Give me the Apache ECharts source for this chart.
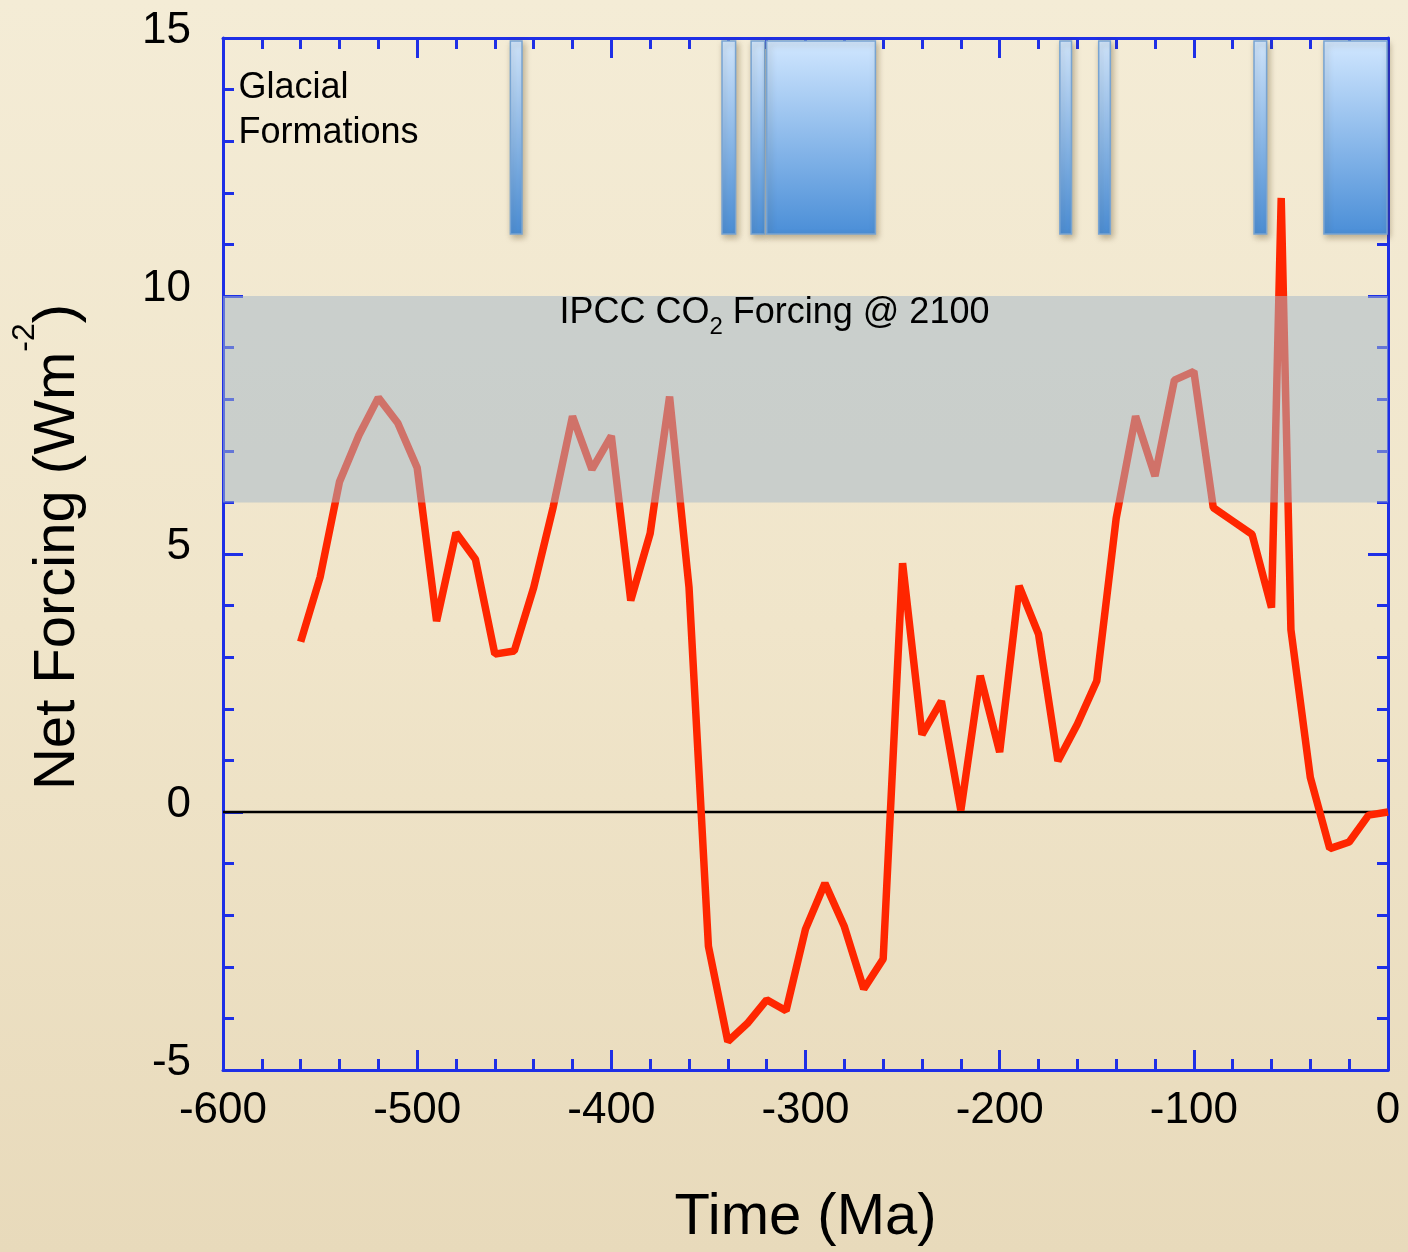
<!DOCTYPE html>
<html>
<head>
<meta charset="utf-8">
<script src="https://cdn.jsdelivr.net/npm/echarts@6/dist/echarts.min.js"></script>
<style>
html, body { margin: 0; padding: 0; }
body { width: 1408px; height: 1252px; background: linear-gradient(180deg, #f4ecd6 0%, #f0e5ca 50%, #e8dabb 100%); }
#chart { width: 1408px; height: 1252px; }
</style>
</head>
<body>
<div id="chart"></div>
<script>
// net forcing through time
var timeMa = [-560, -550, -540, -530, -520, -510, -500, -490, -480, -470,
  -460, -450, -440, -430, -420, -410, -400, -390, -380, -370,
  -360, -350, -340, -330, -320, -310, -300, -290, -280, -270,
  -260, -250, -240, -230, -220, -210, -200, -190, -180, -170,
  -160, -150, -140, -130, -120, -110, -100, -90, -80, -70,
  -60, -55, -50, -40, -30, -20, -10, 0];
var netForcing = [3.3, 4.55, 6.4, 7.3, 8.03, 7.54, 6.67, 3.7, 5.41, 4.9,
  3.06, 3.12, 4.35, 5.9, 7.67, 6.64, 7.29, 4.1, 5.4, 8.05,
  4.36, -2.6, -4.45, -4.1, -3.64, -3.85, -2.27, -1.38, -2.22, -3.43,
  -2.85, 4.82, 1.5, 2.15, 0.03, 2.64, 1.16, 4.38, 3.45, 0.99,
  1.7, 2.54, 5.69, 7.67, 6.51, 8.37, 8.54, 5.9, 5.64, 5.38,
  3.96, 11.9, 3.53, 0.67, -0.71, -0.58, -0.06, 0];

// glacial formation intervals (Ma)
var glacialStart = [-452, -343, -328, -320, -169, -149, -69, -33];
var glacialEnd = [-446, -336, -321, -264, -163, -143, -62.5, -0.5];

// IPCC forcing range
var ipccBand = [6, 10];

var xRange = [-600, 0];
var yRange = [-5, 15];

var line = [];
for (var i = 0; i < timeMa.length; i++) line.push([timeMa[i], netForcing[i]]);
var glacial = [];
for (var j = 0; j < glacialStart.length; j++) glacial.push([glacialStart[j], glacialEnd[j]]);

var blue = '#1e2fe6';
var font = '"Liberation Sans", Arial, Helvetica, sans-serif';

function frameAxis(pos, isX, showLabel) {
  var label = {
    show: showLabel,
    color: '#000',
    fontFamily: font,
    fontSize: 44,
    margin: isX ? 19 : 32
  };
  if (!isX) {
    // sit the numbers a little above their ticks, like the original
    label.verticalAlign = 'bottom';
    label.lineHeight = 14;
  }
  return {
    type: 'value',
    position: pos,
    min: isX ? xRange[0] : yRange[0],
    max: isX ? xRange[1] : yRange[1],
    interval: isX ? 100 : 5,
    axisLine: { show: true, onZero: false, lineStyle: { color: blue, width: 3 } },
    axisTick: { show: true, inside: true, length: 20, lineStyle: { color: blue, width: 3 } },
    minorTick: { show: true, splitNumber: 5, length: 11, lineStyle: { color: blue, width: 3 } },
    splitLine: { show: false },
    axisLabel: label
  };
}

var xMain = frameAxis('bottom', true, true);
xMain.name = 'Time (Ma)';
xMain.nameLocation = 'middle';
xMain.nameGap = 119;
xMain.nameTextStyle = { color: '#000', fontFamily: font, fontSize: 58 };

var yMain = frameAxis('left', false, true);
yMain.name = '{n|Net Forcing (Wm}{p|-2}{n|)}';
yMain.nameLocation = 'middle';
yMain.nameGap = 117;
yMain.nameTextStyle = {
  color: '#000',
  fontFamily: font,
  padding: [0, 0, 0, 14],
  rich: {
    n: { fontSize: 58, lineHeight: 97, fontFamily: font, color: '#000' },
    p: { fontSize: 32, lineHeight: 34, verticalAlign: 'top', fontFamily: font, color: '#000' }
  }
};

var option = {
  backgroundColor: 'transparent',
  animation: false,
  grid: { left: 223, right: 20, top: 38, bottom: 181 },
  xAxis: [xMain, frameAxis('top', true, false)],
  yAxis: [yMain, frameAxis('right', false, false)],
  series: [
    {
      name: 'glacial',
      type: 'custom',
      z: 2,
      data: glacial,
      encode: { x: [0, 1] },
      renderItem: function (params, api) {
        var a = api.coord([api.value(0), 14.94]);
        var b = api.coord([api.value(1), 11.2]);
        return {
          type: 'rect',
          shape: { x: a[0], y: a[1], width: b[0] - a[0], height: b[1] - a[1] },
          style: {
            fill: new echarts.graphic.LinearGradient(0, 0, 0, 1, [
              { offset: 0, color: '#d1e7ff' },
              { offset: 1, color: '#4a8ed7' }
            ]),
            stroke: '#78a4d2',
            lineWidth: 1.5,
            shadowBlur: 6,
            shadowColor: 'rgba(80,60,20,0.35)',
            shadowOffsetX: 2,
            shadowOffsetY: 3
          }
        };
      }
    },
    {
      name: 'zero',
      type: 'line',
      z: 2,
      symbol: 'none',
      silent: true,
      data: [[xRange[0], 0], [xRange[1], 0]],
      lineStyle: { color: '#000', width: 2.5 }
    },
    {
      name: 'forcing',
      type: 'line',
      z: 3,
      symbol: 'none',
      data: line,
      lineStyle: { color: '#ff2600', width: 7.5, join: 'bevel' }
    },
    {
      name: 'ipcc',
      type: 'custom',
      z: 5,
      data: [ipccBand],
      encode: { y: [0, 1] },
      renderItem: function (params, api) {
        var tl = api.coord([xRange[0], api.value(1)]);
        var br = api.coord([xRange[1], api.value(0)]);
        var mid = api.coord([-316, api.value(1)]);
        return {
          type: 'group',
          children: [
            {
              type: 'rect',
              shape: { x: tl[0], y: tl[1], width: br[0] - tl[0], height: br[1] - tl[1] },
              style: { fill: 'rgba(165,184,202,0.52)' }
            },
            {
              type: 'text',
              x: mid[0],
              y: mid[1] - 9,
              style: {
                text: '{t|IPCC CO}{s|2}{t| Forcing @ 2100}',
                align: 'center',
                verticalAlign: 'top',
                rich: {
                  t: { fontSize: 36, lineHeight: 52, fontFamily: font, fill: '#000' },
                  s: { fontSize: 24, lineHeight: 24, verticalAlign: 'bottom', fontFamily: font, fill: '#000' }
                }
              }
            }
          ]
        };
      }
    },
    {
      name: 'notes',
      type: 'custom',
      z: 6,
      data: [[-592, 15]],
      renderItem: function (params, api) {
        var p = api.coord([api.value(0), api.value(1)]);
        return {
          type: 'text',
          x: p[0],
          y: p[1] + 28,
          style: {
            text: 'Glacial\nFormations',
            align: 'left',
            verticalAlign: 'top',
            fontSize: 36,
            lineHeight: 45,
            fontFamily: font,
            fill: '#000'
          }
        };
      }
    }
  ]
};

var chart = echarts.init(document.getElementById('chart'));
chart.setOption(option);
</script>
</body>
</html>
